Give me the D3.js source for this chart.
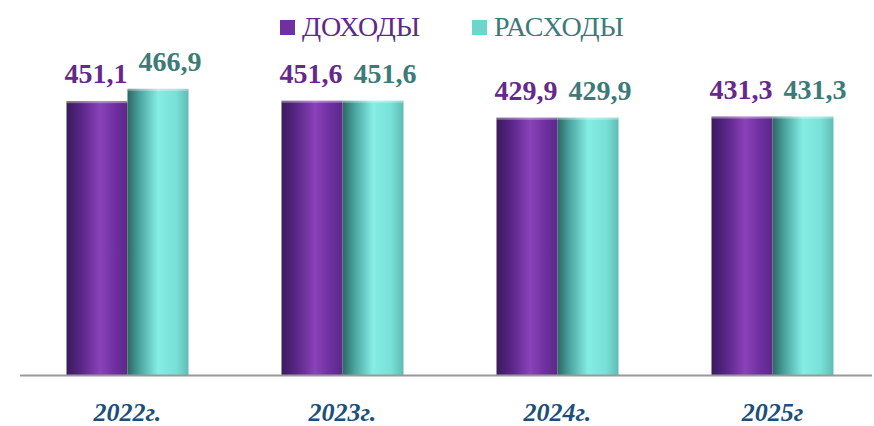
<!DOCTYPE html>
<html>
    <head>
        <meta charset="utf-8">
        <style>
            body {
                margin: 0;
                background: #ffffff;
            }
            svg text {
                font-family: "Liberation Serif", "DejaVu Serif", serif;
            }
            .value-label {
                font-size: 28px;
                font-weight: bold;
                text-anchor: middle;
            }
            .year-label {
                font-size: 26px;
                font-weight: bold;
                font-style: italic;
                fill: #1c4f7a;
                text-anchor: middle;
            }
            .legend-text {
                font-size: 28px;
            }
        </style>
    </head>
    <body>
        <script src="https://d3js.org/d3.v7.min.js"></script>

        <script>
            const years = ['2022г.', '2023г.', '2024г.', '2025г'];
            const seriesNames = ['ДОХОДЫ', 'РАСХОДЫ'];
            const income = [451.1, 451.6, 429.9, 431.3];
            const expenses = [466.9, 451.6, 429.9, 431.3];

            function makeChart() {
                const width = 874;
                const height = 426;
                const margin = ({top: 63, right: 0, bottom: 51, left: 20});

                const svg = d3.select('body').append('svg')
                    .attr('width', width)
                    .attr('height', height);

                const defs = svg.append('defs');

                // cylinder-like shading
                const gradPurple = defs.append('linearGradient')
                    .attr('id', 'grad-purple')
                    .attr('x1', '0%').attr('x2', '100%');
                gradPurple.append('stop').attr('offset', '0%').attr('stop-color', '#3a1b5c');
                gradPurple.append('stop').attr('offset', '25%').attr('stop-color', '#5a2688');
                gradPurple.append('stop').attr('offset', '55%').attr('stop-color', '#8a42b8');
                gradPurple.append('stop').attr('offset', '80%').attr('stop-color', '#6e2fa0');
                gradPurple.append('stop').attr('offset', '100%').attr('stop-color', '#5c2888');

                const gradTeal = defs.append('linearGradient')
                    .attr('id', 'grad-teal')
                    .attr('x1', '0%').attr('x2', '100%');
                gradTeal.append('stop').attr('offset', '0%').attr('stop-color', '#2c6663');
                gradTeal.append('stop').attr('offset', '20%').attr('stop-color', '#4aa59f');
                gradTeal.append('stop').attr('offset', '50%').attr('stop-color', '#86ede4');
                gradTeal.append('stop').attr('offset', '80%').attr('stop-color', '#78e0d6');
                gradTeal.append('stop').attr('offset', '100%').attr('stop-color', '#5fbcb4');

                const x0 = d3.scaleBand()
                    .domain(years)
                    .range([margin.left, 880]);

                const x1 = d3.scaleBand()
                    .domain(seriesNames)
                    .range([0, 122]);

                const y = d3.scaleLinear()
                    .domain([100, 500])
                    .range([height - margin.bottom, margin.top]);

                const data = years.map((yr, i) => ({
                    year: yr,
                    values: [
                        {key: seriesNames[0], value: income[i]},
                        {key: seriesNames[1], value: expenses[i]}
                    ]
                }));

                const fills = {'ДОХОДЫ': 'url(#grad-purple)', 'РАСХОДЫ': 'url(#grad-teal)'};
                const labelColors = {'ДОХОДЫ': '#66288a', 'РАСХОДЫ': '#3d7a78'};
                const labelShift = {'ДОХОДЫ': -1, 'РАСХОДЫ': 12};

                const groups = svg.append('g')
                    .selectAll('g')
                    .data(data)
                    .join('g')
                    .attr('transform', d => 'translate(' + (x0(d.year) + x0.bandwidth() / 2 - 61) + ',0)');

                groups.selectAll('rect')
                    .data(d => d.values)
                    .join('rect')
                    .attr('x', d => x1(d.key))
                    .attr('y', d => y(d.value))
                    .attr('width', x1.bandwidth())
                    .attr('height', d => y(100) - y(d.value))
                    .attr('fill', d => fills[d.key]);

                // light rim at the top of each bar
                groups.selectAll('.rim')
                    .data(d => d.values)
                    .join('rect')
                    .attr('class', 'rim')
                    .attr('x', d => x1(d.key))
                    .attr('y', d => y(d.value))
                    .attr('width', x1.bandwidth())
                    .attr('height', 2)
                    .attr('fill', '#ffffff')
                    .attr('opacity', 0.35);

                groups.selectAll('.value-label')
                    .data(d => d.values)
                    .join('text')
                    .attr('class', 'value-label')
                    .attr('x', d => x1(d.key) + x1.bandwidth() / 2 + labelShift[d.key])
                    .attr('y', d => y(d.value) - 18)
                    .attr('fill', d => labelColors[d.key])
                    .text(d => d3.format('.1f')(d.value).replace('.', ','));

                // baseline
                svg.append('line')
                    .attr('x1', margin.left)
                    .attr('x2', 872)
                    .attr('y1', y(100) + 0.5)
                    .attr('y2', y(100) + 0.5)
                    .attr('stroke', '#999999')
                    .attr('stroke-width', 2);

                svg.append('g')
                    .selectAll('text')
                    .data(years)
                    .join('text')
                    .attr('class', 'year-label')
                    .attr('x', d => x0(d) + x0.bandwidth() / 2)
                    .attr('y', 421)
                    .text(d => d);

                // legend
                const legend = svg.append('g');
                const legendItems = [
                    {name: seriesNames[0], x: 280, box: '#7030a0', text: '#5e2a86'},
                    {name: seriesNames[1], x: 472, box: '#6dd6cc', text: '#3e7a7a'}
                ];
                legend.selectAll('rect')
                    .data(legendItems)
                    .join('rect')
                    .attr('x', d => d.x)
                    .attr('y', 20)
                    .attr('width', 15)
                    .attr('height', 15)
                    .attr('fill', d => d.box);
                legend.selectAll('text')
                    .data(legendItems)
                    .join('text')
                    .attr('class', 'legend-text')
                    .attr('x', d => d.x + 22)
                    .attr('y', 36)
                    .attr('fill', d => d.text)
                    .text(d => d.name);
            }
            makeChart();
        </script>
    </body>
</html>
